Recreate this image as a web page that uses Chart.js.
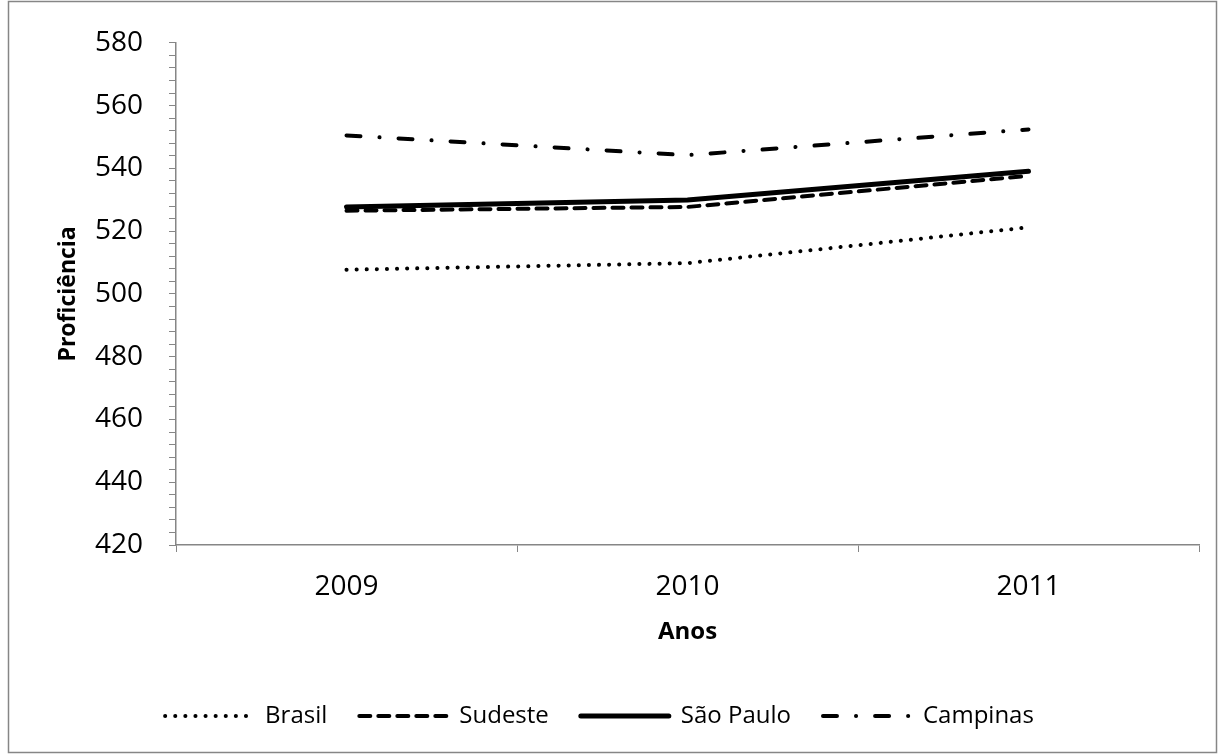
<!DOCTYPE html>
<html>
<head>
<meta charset="utf-8">
<script src="https://cdn.jsdelivr.net/npm/chart.js@4/dist/chart.umd.min.js"></script>
<style>
  html, body { margin: 0; padding: 0; background: #fff; }
  #wrap { position: relative; width: 1219px; height: 754px; }
</style>
</head>
<body>
<div id="wrap"><canvas id="chart"></canvas></div>
<script>
const years = ['2009', '2010', '2011'];
const brasil = [507.7, 509.8, 521.2];
const sudeste = [526.5, 527.7, 537.6];
const saoPaulo = [527.7, 529.9, 539.1];
const campinas = [550.5, 544.2, 552.4];
const yMin = 420, yMax = 580;

const AXIS = '#868686';
const FONT = "'Open Sans', sans-serif";

// moldura externa do gráfico
const framePlugin = {
    id: 'frame',
    afterDraw(chart) {
        const ctx = chart.ctx;
        ctx.save();
        ctx.strokeStyle = AXIS;
        ctx.lineWidth = 1.5;
        ctx.strokeRect(8.5, 1.5, 1208, 751);
        ctx.restore();
    }
};

function line(label, data, dash, width) {
    return {
        label, data,
        borderColor: '#000',
        backgroundColor: '#000',
        borderWidth: width,
        borderDash: dash,
        borderCapStyle: 'round',
        borderJoinStyle: 'round',
        pointRadius: 0,
        tension: 0,
        fill: false,
    };
}

new Chart(document.getElementById('chart'), {
    type: 'line',
    data: {
        labels: years,
        datasets: [
            line('Brasil', brasil, [0.1, 10], 4),
            line('Sudeste', sudeste, [11, 8], 4),
            line('São Paulo', saoPaulo, [], 5),
            line('Campinas', campinas, [14, 19, 0.1, 19], 4),
        ]
    },
    options: {
        responsive: true,
        maintainAspectRatio: false,
        animation: false,
        layout: { padding: { left: 0, right: 20, top: 40, bottom: 16 } },
        scales: {
            x: {
                offset: true,
                afterFit: s => { s.height = 127; },
                grid: { offset: true, drawOnChartArea: false, color: AXIS, tickLength: 7, tickColor: AXIS },
                border: { color: AXIS, width: 1.5 },
                ticks: { color: '#000', font: { family: FONT, size: 28 }, padding: 18 },
                title: { display: true, text: 'Anos', color: '#000', font: { family: FONT, size: 24, weight: 'bold' }, padding: { top: 0, bottom: 25 } }
            },
            y: {
                min: yMin, max: yMax,
                afterFit: s => { s.width = 176; },
                grid: { drawOnChartArea: false, color: AXIS, tickLength: 7, tickColor: AXIS },
                border: { color: AXIS, width: 1.5 },
                ticks: {
                    stepSize: 4,
                    autoSkip: false,
                    color: '#000',
                    font: { family: FONT, size: 28 },
                    padding: 26,
                    callback: v => (v % 20 === 0 ? v : '')
                },
                title: { display: true, text: 'Proficiência', color: '#000', font: { family: FONT, size: 23, weight: 'bold' }, padding: { top: 55 } }
            }
        },
        plugins: {
            legend: {
                position: 'bottom',
                labels: {
                    usePointStyle: true,
                    pointStyle: 'line',
                    pointStyleWidth: 88,
                    color: '#000',
                    font: { family: FONT, size: 24 },
                    padding: 32,
                    // traço da legenda igual ao da série
                    generateLabels: chart => {
                        const items = Chart.defaults.plugins.legend.labels.generateLabels(chart);
                        items.forEach(it => {
                            const ds = chart.data.datasets[it.datasetIndex];
                            it.lineDash = ds.borderDash;
                            it.lineWidth = ds.borderWidth;
                            it.lineCap = 'round';
                            it.strokeStyle = '#000';
                        });
                        return items;
                    }
                }
            },
            tooltip: { enabled: false }
        }
    },
    plugins: [framePlugin]
});
</script>
</body>
</html>
